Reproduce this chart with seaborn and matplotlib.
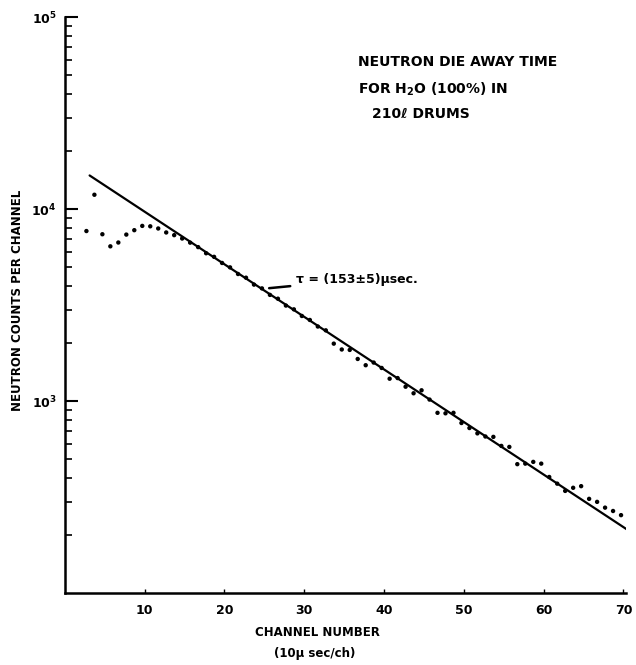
import matplotlib
matplotlib.use('Agg')
import matplotlib.pyplot as plt
import numpy as np
import seaborn as sns
from matplotlib.ticker import LogLocator, NullFormatter, FixedLocator

# datos (canal, cuentas por canal)
canal = [2.7, 3.7, 4.7, 5.7, 6.7, 7.7, 8.7, 9.7, 10.7, 11.7,
         12.7, 13.7, 14.7, 15.7, 16.7, 17.7, 18.7, 19.7, 20.7, 21.7,
         22.7, 23.7, 24.7, 25.7, 26.7, 27.7, 28.7, 29.7, 30.7, 31.7,
         32.7, 33.7, 34.7, 35.7, 36.7, 37.7, 38.7, 39.7, 40.7, 41.7,
         42.7, 43.7, 44.7, 45.7, 46.7, 47.7, 48.7, 49.7, 50.7, 51.7,
         52.7, 53.7, 54.7, 55.7, 56.7, 57.7, 58.7, 59.7, 60.7, 61.7,
         62.7, 63.7, 64.7, 65.7, 66.7, 67.7, 68.7, 69.7, 70.7]
cuentas = [7700, 11900, 7410, 6410, 6710, 7380, 7780, 8190, 8150, 7940,
           7570, 7330, 7040, 6700, 6350, 5900, 5650, 5250, 4980, 4600,
           4400, 4050, 3870, 3580, 3420, 3150, 3010, 2780, 2650, 2450,
           2340, 1995, 1860, 1850, 1660, 1540, 1590, 1490, 1310, 1320,
           1190, 1100, 1140, 1020, 870, 865, 870, 770, 725, 680,
           655, 652, 585, 578, 470, 473, 483, 473, 403, 372,
           341, 354, 361, 310, 299, 279, 268, 255, 264]

# recta de ajuste (extremos)
ajuste_x = [3.1, 70.8]
ajuste_y = [15000, 210]

xticks = [10, 20, 30, 40, 50, 60, 70]
yticks = [1e3, 1e4, 1e5]
ylabels = [r'$10^3$', r'$10^4$', r'$10^5$']

sns.set_style('ticks')
plt.rcParams['font.family'] = ['DejaVu Sans']
plt.rcParams['font.weight'] = 'bold'
plt.rcParams['mathtext.default'] = 'bf'
plt.rcParams['text.color'] = 'black'
plt.rcParams['xtick.color'] = 'black'
plt.rcParams['ytick.color'] = 'black'

fig = plt.figure(figsize=(6.36, 6.65), dpi=100)
ax = fig.add_axes([0.102, 0.108, 0.882, 0.866])

sns.lineplot(x=ajuste_x, y=ajuste_y, color='black', linewidth=1.6, ax=ax)
sns.scatterplot(x=canal, y=cuentas, color='black', s=10, edgecolor='none', ax=ax)

ax.set_yscale('log')
ax.set_xlim(0, 70.3)
ax.set_ylim(100, 1e5)

ax.yaxis.set_major_locator(FixedLocator(yticks))
ax.set_yticklabels(ylabels, fontsize=9)
ax.yaxis.set_minor_locator(LogLocator(base=10, subs=np.arange(2, 10)))
ax.yaxis.set_minor_formatter(NullFormatter())
ax.set_xticks(xticks)
ax.set_xticklabels([str(t) for t in xticks], fontsize=9, fontweight='bold')

ax.tick_params(axis='y', which='major', direction='in', length=9, width=1.5, pad=6)
ax.tick_params(axis='y', which='minor', direction='in', length=5, width=1.2)
ax.tick_params(axis='x', direction='in', length=3, width=1, pad=8)

for lado in ['top', 'right']:
    ax.spines[lado].set_visible(False)
for lado in ['left', 'bottom']:
    ax.spines[lado].set_linewidth(1.8)
    ax.spines[lado].set_color('black')

ax.set_xlabel('')
ax.set_ylabel('')

# textos
fig.text(18 / 636, 1 - 300 / 665, 'NEUTRON COUNTS PER CHANNEL', rotation=90,
         fontsize=8.5, fontweight='bold', ha='center', va='center')
fig.text(317 / 636, 1 - 632 / 665, 'CHANNEL NUMBER', fontsize=8.5,
         fontweight='bold', ha='center', va='center')
fig.text(315 / 636, 1 - 653 / 665, '(10µ sec/ch)', fontsize=8.5,
         fontweight='bold', ha='center', va='center')

fig.text(358 / 636, 1 - 62 / 665, 'NEUTRON DIE AWAY TIME', fontsize=10,
         fontweight='bold', ha='left', va='center')
fig.text(358 / 636, 1 - 89 / 665, r'FOR H$_2$O (100%) IN', fontsize=10,
         fontweight='bold', ha='left', va='center')
fig.text(372 / 636, 1 - 114 / 665, '210ℓ DRUMS', fontsize=10,
         fontweight='bold', ha='left', va='center')

# anotacion de tau
ax.annotate('τ = (153±5)µsec.', xy=(25.6, 3880), xytext=(29.0, 4300),
            fontsize=9, fontweight='bold', ha='left', va='center',
            arrowprops=dict(arrowstyle='-', color='black', linewidth=1.8,
                            shrinkA=2, shrinkB=0))

fig.savefig('out.png', dpi=100)
